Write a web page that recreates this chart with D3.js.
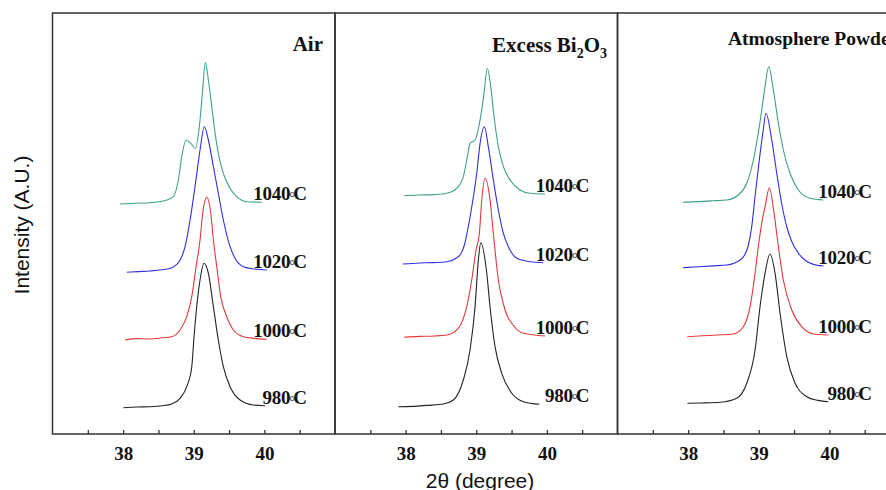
<!DOCTYPE html>
<html>
<head>
<meta charset="utf-8">
<script src="https://cdn.jsdelivr.net/npm/d3@7"></script>
<style>
  html, body { margin: 0; padding: 0; background: #fff; }
  svg { display: block; }
</style>
</head>
<body>
<svg id="chart" width="886" height="490"></svg>
<script>
// ---------------- data ----------------
const panelNames = ["Air", "Excess Bi2O3", "Atmosphere Powder"];
const tempLabels = ["980°C", "1000°C", "1020°C", "1040°C"];
const seriesColors = ["#222222", "#e3383b", "#2f2fdf", "#3f9f8c"];
const majorTicks = [38, 39, 40];
const minorTicks = [37.5, 38.5, 39.5, 40.5];
const xDomain = [37, 41];
const yDomain = [0, 421];

// [2theta (deg), intensity (a.u.)]
// --- Air ---
const air980 = [[38.003,26.3],[38.20,27.0],[38.381,27.3],[38.55,28.2],[38.688,30],[38.806,35.7],[38.901,47.3],[38.972,67.3],[39.004,97.3],[39.042,127.3],[39.089,154],[39.146,170.7],[39.207,160.7],[39.278,127.3],[39.348,94],[39.419,67.3],[39.514,47.3],[39.656,34],[39.844,29],[40.010,28.3]];
const air1000 = [[38.027,94],[38.20,95.4],[38.381,95],[38.55,96.2],[38.688,97.3],[38.806,104],[38.901,117.3],[38.972,137.3],[39.033,167.3],[39.089,194],[39.127,220.7],[39.184,236.7],[39.241,220.7],[39.278,194],[39.326,167.3],[39.382,137.3],[39.467,117.3],[39.561,104],[39.703,97.3],[39.86,95.6],[40.034,94.7]];
const air1020 = [[38.051,161.7],[38.22,162.4],[38.381,163],[38.55,164.2],[38.688,166.3],[38.806,174],[38.877,187.3],[38.948,214],[39.018,247.3],[39.089,284],[39.150,307.3],[39.207,294],[39.278,267.3],[39.348,240.7],[39.419,214],[39.514,187.3],[39.585,175.7],[39.703,167.3],[39.86,165],[40.034,164]];
const air1040 = [[37.956,230],[38.17,230.8],[38.381,231.3],[38.618,234],[38.711,237.3],[38.782,254],[38.830,277.3],[38.891,294],[38.958,290.7],[39.023,285.7],[39.079,307.3],[39.122,340.7],[39.164,371.7],[39.207,354],[39.255,327.3],[39.302,300.7],[39.348,280.7],[39.419,260.7],[39.514,245.7],[39.609,237.3],[39.751,232.3],[39.963,231.7]];
// --- Excess Bi2O3 ---
const exc980 = [[37.897,27.3],[38.10,27.6],[38.30,28.6],[38.534,30],[38.676,34],[38.817,54],[38.912,84],[38.983,127.3],[39.030,174],[39.064,191.3],[39.149,160.7],[39.195,127.3],[39.266,87.3],[39.361,60.7],[39.503,40.7],[39.667,32.3],[39.894,29.7]];
const exc1000 = [[37.977,96.7],[38.20,97.6],[38.40,98.0],[38.582,99],[38.746,105.7],[38.865,127.3],[38.936,154],[38.997,184],[39.044,200.7],[39.078,234],[39.125,255.7],[39.195,234],[39.242,200.7],[39.313,154],[39.384,130],[39.44,118],[39.52,109],[39.667,100.7],[39.975,98]];
const exc1020 = [[37.959,170],[38.20,171.0],[38.40,171.4],[38.582,172.3],[38.72,176],[38.78,180],[38.83,188.5],[38.87,201],[38.936,227],[39.007,260.7],[39.054,290.7],[39.115,307.3],[39.171,287.3],[39.242,254],[39.313,224],[39.384,200.7],[39.455,187.3],[39.574,175.7],[39.762,172.3],[39.950,171.3]];
const exc1040 = [[37.977,238.3],[38.20,239.0],[38.40,239.4],[38.582,240.7],[38.724,245.7],[38.817,257.3],[38.874,277.3],[38.912,290.7],[38.983,294],[39.054,314],[39.110,340.7],[39.157,365.7],[39.205,347.3],[39.252,317.3],[39.313,287.3],[39.384,267.3],[39.479,254],[39.620,244],[39.762,240.7],[39.975,240]];
// --- Atmosphere Powder ---
const atm980 = [[37.989,30.7],[38.20,31.0],[38.452,31.7],[38.688,35.7],[38.830,50.7],[38.948,84],[39.018,127.3],[39.089,160.7],[39.160,180],[39.231,160.7],[39.302,120.7],[39.397,77.3],[39.514,50.7],[39.680,37.3],[39.84,33.6],[39.986,32.3]];
const atm1000 = [[37.989,97.3],[38.20,98.2],[38.42,99.0],[38.640,100],[38.782,107.3],[38.877,127.3],[38.948,160.7],[38.994,187.3],[39.040,210],[39.089,227.3],[39.150,246.3],[39.217,220.7],[39.278,187.3],[39.348,154],[39.467,124],[39.609,107.3],[39.773,100],[39.986,99]];
const atm1020 = [[37.932,166.3],[38.15,167.2],[38.35,168.1],[38.547,169],[38.735,174],[38.80,179],[38.85,188],[38.90,207],[38.948,238],[39.008,274],[39.057,300.7],[39.103,320.7],[39.184,294],[39.255,260.7],[39.326,230],[39.397,207],[39.47,192],[39.56,181],[39.66,173.5],[39.76,170],[39.915,168]];
const atm1040 = [[37.924,231.7],[38.15,232.4],[38.35,233.2],[38.547,234],[38.711,239],[38.830,250.7],[38.924,274],[39.008,307.3],[39.075,340.7],[39.142,367.3],[39.207,344],[39.278,310.7],[39.348,284],[39.443,260.7],[39.561,244],[39.727,235.7],[39.915,234]];

const panelSeries = [
  [air980, air1000, air1020, air1040],
  [exc980, exc1000, exc1020, exc1040],
  [atm980, atm1000, atm1020, atm1040]
];

// ---------------- layout ----------------
const svg = d3.select("#chart");
const plotLeft = 52.5, plotTop = 13, plotBottom = 434;
const panelW = 282.5;
const frameColor = "#333";
const serif = "'Liberation Serif','Times New Roman',Times,serif";
const sans = "'Liberation Sans',Arial,Helvetica,sans-serif";

const y = d3.scaleLinear().domain(yDomain).range([plotBottom, plotTop]);

panelNames.forEach((name, pi) => {
  const left = plotLeft + pi * panelW;
  const x = d3.scaleLinear().domain(xDomain).range([left, left + panelW]);
  const g = svg.append("g");

  // frame
  g.append("rect")
    .attr("x", left).attr("y", plotTop)
    .attr("width", panelW).attr("height", plotBottom - plotTop)
    .attr("fill", "none").attr("stroke", frameColor).attr("stroke-width", 1.5);

  // axis with inward ticks
  const axis = d3.axisBottom(x)
    .tickValues(majorTicks.concat(minorTicks).sort((a, b) => a - b))
    .tickSizeInner(-4).tickSizeOuter(0).tickPadding(13)
    .tickFormat(d => Number.isInteger(d) ? String(d) : "");
  const ax = g.append("g").attr("transform", `translate(0,${plotBottom})`).call(axis);
  ax.select(".domain").remove();
  ax.selectAll(".tick line").attr("stroke", frameColor).attr("stroke-width", 1.3);
  ax.selectAll(".tick text")
    .attr("font-family", serif).attr("font-weight", "bold")
    .attr("font-size", 19).attr("fill", "#111");

  // curves
  const line = d3.line()
    .x(d => x(d[0])).y(d => y(d[1]))
    .curve(d3.curveMonotoneX);
  panelSeries[pi].forEach((ser, si) => {
    g.append("path")
      .datum(ser)
      .attr("d", line)
      .attr("fill", "none")
      .attr("stroke", seriesColors[si])
      .attr("stroke-width", 1.1);

    // temperature label
    const last = ser[ser.length - 1];
    const lab = tempLabels[si];
    const num = lab.replace("°C", "");
    const t = g.append("text")
      .attr("x", x(40.6)).attr("y", y(last[1]) - 2)
      .attr("text-anchor", "end")
      .attr("font-family", serif).attr("font-weight", "bold")
      .attr("font-size", 19).attr("fill", "#111")
      .attr("letter-spacing", -0.3);
    t.append("tspan").text(num);
    t.append("tspan").attr("font-size", 15).attr("font-weight", "normal")
      .attr("dy", 2).attr("dx", -1).text("°");
    t.append("tspan").attr("dy", -2).attr("dx", -1.5).text("C");
  });
});

// panel titles
svg.append("text")
  .attr("x", 323).attr("y", 51).attr("text-anchor", "end")
  .attr("font-family", serif).attr("font-weight", "bold").attr("font-size", 21)
  .attr("fill", "#111").text(panelNames[0]);

const t2 = svg.append("text")
  .attr("x", 607).attr("y", 52).attr("text-anchor", "end")
  .attr("font-family", serif).attr("font-weight", "bold").attr("font-size", 21)
  .attr("fill", "#111");
t2.append("tspan").text("Excess Bi");
t2.append("tspan").attr("font-size", 14).attr("dy", 6).text("2");
t2.append("tspan").attr("dy", -6).text("O");
t2.append("tspan").attr("font-size", 14).attr("dy", 6).text("3");

svg.append("text")
  .attr("x", 728).attr("y", 45)
  .attr("font-family", serif).attr("font-weight", "bold").attr("font-size", 19.5)
  .attr("fill", "#111").text(panelNames[2]);

// axis titles
svg.append("text")
  .attr("x", 480).attr("y", 488).attr("text-anchor", "middle")
  .attr("font-family", sans).attr("font-size", 21).attr("fill", "#111")
  .text("2θ (degree)");

svg.append("text")
  .attr("transform", "translate(29,225) rotate(-90)")
  .attr("text-anchor", "middle")
  .attr("font-family", sans).attr("font-size", 21).attr("fill", "#111")
  .text("Intensity (A.U.)");
</script>
</body>
</html>
